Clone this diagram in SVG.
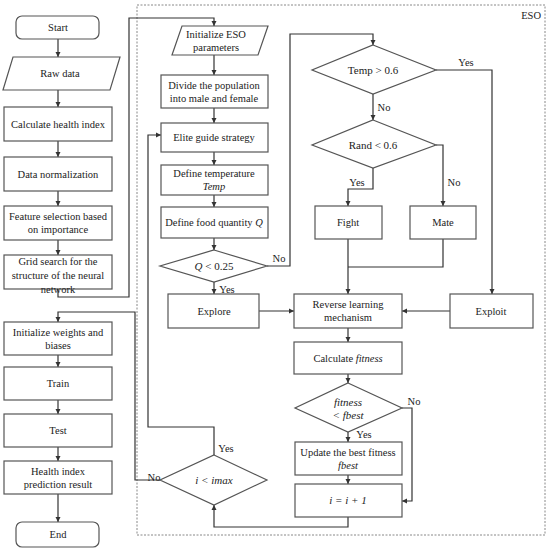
<svg xmlns="http://www.w3.org/2000/svg" width="550" height="549" viewBox="0 0 550 549">
<style>
.b{fill:#fff;stroke:#555;stroke-width:1.2}
.c{fill:none;stroke:#333;stroke-width:1.2}
.a{marker-end:url(#ah)}
text{font-family:"Liberation Serif","Times New Roman",serif;font-size:10.5px;fill:#222;text-anchor:middle}
.m{font-style:italic}
.s{font-size:11px}
.l{text-anchor:start}
.d{fill:none;stroke:#888;stroke-width:1;stroke-dasharray:2,1.5}
</style>
<defs>
<marker id="ah" markerUnits="userSpaceOnUse" markerWidth="6" markerHeight="6" refX="5" refY="3" orient="auto">
<path d="M0,0.5 L5,3 L0,5.5 z" fill="#333"/>
</marker>
</defs>
<rect class="d" x="137" y="5" width="408" height="530"/>
<text x="541" y="19" style="text-anchor:end">ESO</text>

<g id="connectors">
<path class="c a" d="M58,39 V57"/>
<path class="c a" d="M58,90 V107"/>
<path class="c a" d="M58,141 V157"/>
<path class="c a" d="M58,191 V206"/>
<path class="c a" d="M58,240 V255"/>
<path class="c a" d="M58,289 V297 H129 V18 H214 V26"/>
<path class="c a" d="M160,480 H135 V312 H58 V322"/>
<path class="c a" d="M58,355 V367"/>
<path class="c a" d="M58,400 V414"/>
<path class="c a" d="M58,447 V461"/>
<path class="c a" d="M58,494 V522"/>
<path class="c a" d="M214,55 V75"/>
<path class="c a" d="M214,108 V123"/>
<path class="c a" d="M214,152 V165"/>
<path class="c a" d="M214,195 V207"/>
<path class="c a" d="M214,238 V250"/>
<path class="c a" d="M267,266 H290 V34 H373 V45"/>
<path class="c a" d="M214,282 V294"/>
<path class="c a" d="M259,311 H294"/>
<path class="c a" d="M373,94 V120"/>
<path class="c a" d="M436,70 H492 V294"/>
<path class="c a" d="M373,168 V189 H348 V206"/>
<path class="c a" d="M436,145 H443 V206"/>
<path class="c a" d="M348,239 V294"/>
<path class="c" d="M443,239 V267 H348"/>
<path class="c a" d="M450,311 H402"/>
<path class="c a" d="M348,328 V342"/>
<path class="c a" d="M348,374 V383"/>
<path class="c a" d="M348,432 V442"/>
<path class="c a" d="M402,408 H412 V501 H402"/>
<path class="c a" d="M348,475 V484"/>
<path class="c a" d="M348,517 V527 H214 V505"/>
<path class="c a" d="M214,455 V427 H148 V135 H161"/>
<text x="279" y="262">No</text>
<text x="227" y="293">Yes</text>
<text x="466" y="66">Yes</text>
<text x="384" y="111">No</text>
<text x="357" y="186">Yes</text>
<text x="454" y="186">No</text>
<text x="414" y="405">No</text>
<text x="364" y="438">Yes</text>
<text x="226" y="452">Yes</text>
<text x="154" y="481">No</text>
</g>

<g id="start"><rect class="b" x="16" y="16" width="83" height="23" rx="6"/><text x="58" y="31">Start</text></g>
<g id="raw"><path class="b" d="M13,57 H120 L110,90 H3 z"/><text x="60" y="77">Raw data</text></g>
<g id="calc-hi"><rect class="b" x="4" y="107" width="108" height="34"/><text x="58" y="128">Calculate health index</text></g>
<g id="norm"><rect class="b" x="4" y="157" width="108" height="34"/><text x="58" y="178">Data normalization</text></g>
<g id="feat"><rect class="b" x="4" y="206" width="108" height="34"/><text x="58" y="220">Feature selection based</text><text x="58" y="233">on importance</text></g>
<g id="grid"><rect class="b" x="4" y="255" width="108" height="34"/><text x="58" y="265">Grid search for the</text><text x="58" y="279">structure of the neural</text><text x="58" y="293">network</text></g>
<g id="initw"><rect class="b" x="4" y="322" width="108" height="33"/><text x="58" y="336">Initialize weights and</text><text x="58" y="349">biases</text></g>
<g id="train"><rect class="b" x="4" y="367" width="108" height="33"/><text x="58" y="387">Train</text></g>
<g id="test"><rect class="b" x="4" y="414" width="108" height="33"/><text x="58" y="434">Test</text></g>
<g id="result"><rect class="b" x="4" y="461" width="108" height="33"/><text x="58" y="475">Health index</text><text x="58" y="488">prediction result</text></g>
<g id="end"><rect class="b" x="16" y="522" width="83" height="25" rx="6"/><text x="58" y="538">End</text></g>

<g id="init-eso"><path class="b" d="M182,26 H268 L258,55 H172 z"/><text x="216" y="38">Initialize ESO</text><text x="216" y="51">parameters</text></g>
<g id="divide"><rect class="b" x="161" y="75" width="107" height="33"/><text x="214" y="89">Divide the population</text><text x="214" y="102">into male and female</text></g>
<g id="elite"><rect class="b" x="161" y="123" width="107" height="29"/><text x="214" y="141">Elite guide strategy</text></g>
<g id="temp"><rect class="b" x="161" y="165" width="107" height="30"/><text x="214" y="177">Define temperature</text><text x="214" y="190" class="m">Temp</text></g>
<g id="food"><rect class="b" x="161" y="207" width="107" height="31"/><text x="214" y="226">Define food quantity <tspan class="m">Q</tspan></text></g>
<g id="qdec"><path class="b" d="M214,250 L267,266 L214,282 L160,266 z"/><text x="214" y="270" class="s"><tspan class="m">Q</tspan> &lt; 0.25</text></g>
<g id="explore"><rect class="b" x="168" y="294" width="91" height="34"/><text x="214" y="315">Explore</text></g>
<g id="tdec"><path class="b" d="M373,45 L436,70 L373,94 L312,70 z"/><text x="373" y="74" class="s">Temp &gt; 0.6</text></g>
<g id="rdec"><path class="b" d="M373,120 L436,145 L373,168 L312,145 z"/><text x="373" y="149" class="s">Rand &lt; 0.6</text></g>
<g id="fight"><rect class="b" x="315" y="206" width="67" height="33"/><text x="348" y="226">Fight</text></g>
<g id="mate"><rect class="b" x="410" y="206" width="66" height="33"/><text x="443" y="226">Mate</text></g>
<g id="exploit"><rect class="b" x="450" y="294" width="83" height="34"/><text x="491" y="315">Exploit</text></g>
<g id="reverse"><rect class="b" x="294" y="294" width="108" height="34"/><text x="348" y="308">Reverse learning</text><text x="348" y="321">mechanism</text></g>
<g id="calcfit"><rect class="b" x="294" y="342" width="108" height="32"/><text x="348" y="362">Calculate <tspan class="m">fitness</tspan></text></g>
<g id="fdec"><path class="b" d="M348,383 L402,408 L348,432 L295,408 z"/><text x="348" y="406" class="m s">fitness</text><text x="348" y="419" class="m s">&lt; fbest</text></g>
<g id="update"><rect class="b" x="295" y="442" width="107" height="33"/><text x="348" y="456">Update the best fitness</text><text x="348" y="469" class="m">fbest</text></g>
<g id="inc"><rect class="b" x="295" y="484" width="107" height="33"/><text x="348" y="504" class="m s">i = i + 1</text></g>
<g id="idec"><path class="b" d="M214,455 L267,480 L214,505 L160,480 z"/><text x="214" y="484" class="m s">i &lt; imax</text></g>
</svg>
